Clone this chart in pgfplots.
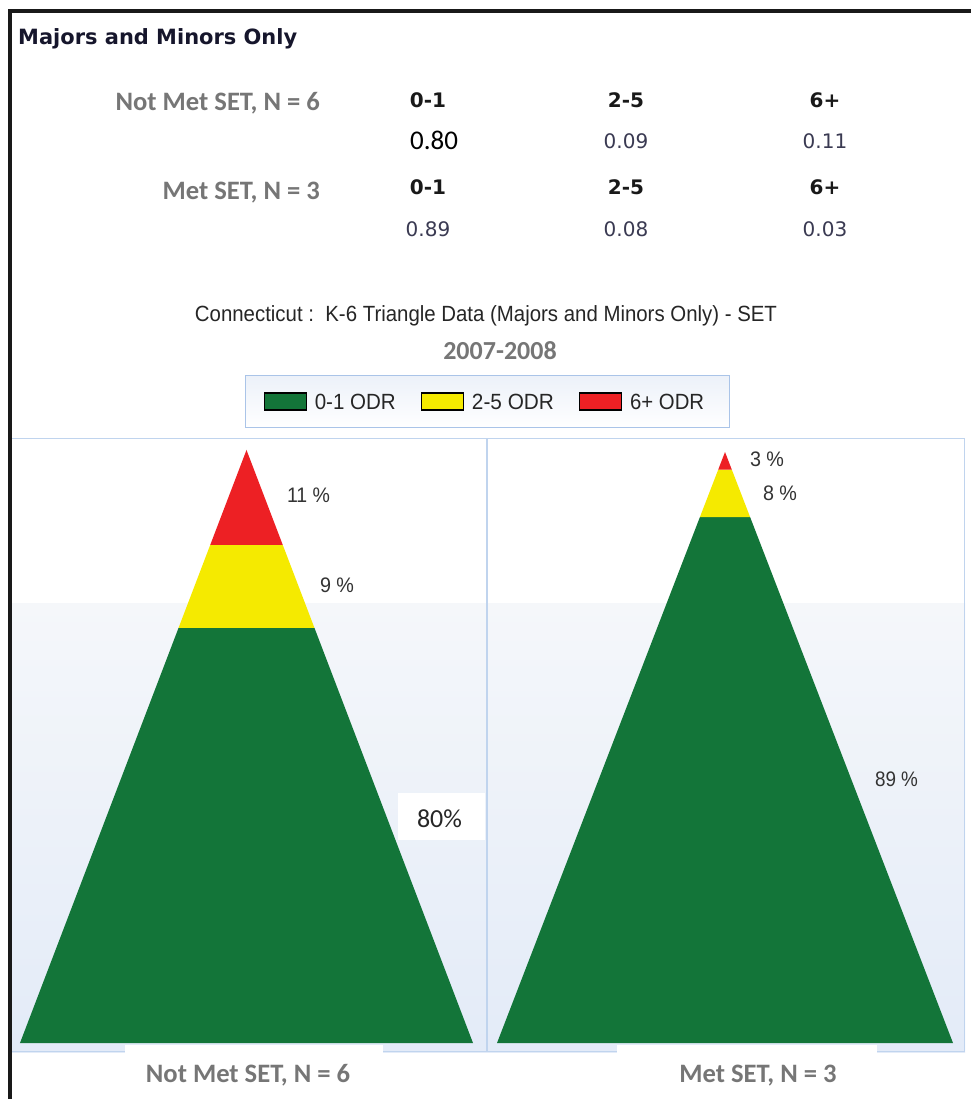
\documentclass[border=0pt]{standalone}
\usepackage{fontspec}
\usepackage{pgfplots}
\pgfplotsset{compat=1.18}
\setmainfont{Liberation Sans}
\newfontfamily\verd{DejaVu Sans}
\newfontfamily\carl{Carlito}
\newfontfamily\ari{Liberation Sans}
\definecolor{odrgreen}{RGB}{19,117,57}
\definecolor{odryellow}{RGB}{245,234,0}
\definecolor{odrred}{RGB}{237,32,36}
\definecolor{gridblue}{RGB}{192,212,238}
\definecolor{legblue}{RGB}{170,196,232}
\definecolor{lbl}{RGB}{118,118,118}
\definecolor{hdr}{RGB}{22,22,44}
\definecolor{val}{RGB}{58,58,82}
\definecolor{bgtop}{RGB}{245,247,250}
\definecolor{bgbot}{RGB}{227,235,248}
\definecolor{legtop}{RGB}{236,241,249}
\newcommand\fw[2]{\resizebox{#1pt}{\height}{#2}}
\begin{document}
\begin{tikzpicture}[x=1pt,y=-1pt]
\path[use as bounding box, fill=white] (0,0) rectangle (971,1099);
% panel backgrounds
\fill[white] (12,438) rectangle (965,603);
\shade[top color=bgtop,bottom color=bgbot] (12,603) rectangle (965,1052);
\draw[gridblue, line width=1.5pt] (12,438.5) -- (965,438.5);
\draw[gridblue, line width=1.5pt] (487,438) -- (487,1052);
\draw[gridblue, line width=1.5pt] (964.5,438) -- (964.5,1052);
\draw[gridblue, line width=1.5pt] (12,1051.5) -- (965,1051.5);
\coordinate (LA) at (12,1052);
\coordinate (RA) at (487,1052);

\begin{axis}[at={(LA)}, anchor=south west, scale only axis,
  width=475pt, height=614pt,
  xmin=-1.0353, xmax=1.0618, ymin=-0.01518, ymax=1.0202,
  hide axis, clip=false,
  legend columns=3,
  legend image code/.code={\draw[#1,draw=black,line width=1.2pt] (0pt,-8.5pt) rectangle (42pt,8.5pt);},
  legend style={at={(0.4905,1.0595)}, anchor=west, draw=legblue, line width=1.2pt,
    top color=legtop, bottom color=white,
    inner xsep=18pt, inner ysep=17pt,
    font=\ari\fontsize{22}{26}\selectfont, text=black!85,
    nodes={inner sep=0pt, text depth=0pt},
    /tikz/every odd column/.style={column sep=8pt},
    /tikz/every even column/.style={column sep=25pt}},
  legend cell align=left]
\addplot[fill=odrgreen, draw=none] coordinates {(-1,0) (1,0) (0.30,0.70) (-0.30,0.70)} -- cycle;
\addlegendentry{\fw{81}{0-1 ODR}}
\addplot[fill=odryellow, draw=none] coordinates {(-0.30,0.70) (0.30,0.70) (0.16,0.84) (-0.16,0.84)} -- cycle;
\addlegendentry{\fw{82}{2-5 ODR}}
\addplot[fill=odrred, draw=none] coordinates {(-0.16,0.84) (0.16,0.84) (0,1)} -- cycle;
\addlegendentry{\fw{74}{6+ ODR}\rule{7pt}{0pt}}
\end{axis}

\begin{axis}[at={(RA)}, anchor=south west, scale only axis,
  width=478pt, height=614pt,
  xmin=-1.0439, xmax=1.0526, ymin=-0.01523, ymax=1.0237,
  hide axis, clip=false]
\addplot[fill=odrgreen, draw=none] coordinates {(-1,0) (1,0) (0.11,0.89) (-0.11,0.89)} -- cycle;
\addplot[fill=odryellow, draw=none] coordinates {(-0.11,0.89) (0.11,0.89) (0.03,0.97) (-0.03,0.97)} -- cycle;
\addplot[fill=odrred, draw=none] coordinates {(-0.03,0.97) (0.03,0.97) (0,1)} -- cycle;
\end{axis}

% label backgrounds at the bottom
\fill[white] (125,1045) rectangle (383,1099);
\fill[white] (617,1045) rectangle (877,1099);

% percent labels
\begin{scope}[every node/.style={inner sep=0pt, text=black!80}]
\node at (308.5,495) {\ari\fontsize{21}{24}\selectfont\fw{43}{11 \%}};
\node at (337,585) {\ari\fontsize{21}{24}\selectfont\fw{34}{9 \%}};
\node at (767,459) {\ari\fontsize{21}{24}\selectfont\fw{34}{3 \%}};
\node at (780,493) {\ari\fontsize{21}{24}\selectfont\fw{34}{8 \%}};
\node at (896.5,779) {\ari\fontsize{21}{24}\selectfont\fw{43}{89 \%}};
\end{scope}
\fill[white] (398,793) rectangle (485,840);
\node[inner sep=0pt, text=black!85] at (439.5,819) {\carl\fontsize{26}{30}\selectfont 80\%};

% header and table
\node[anchor=base west, inner sep=0pt, text=hdr] at (18,45) {\verd\bfseries\fontsize{21}{25}\selectfont\fw{279}{Majors and Minors Only}};
\node[anchor=base east, inner sep=0pt, text=lbl] at (320,111) {\carl\bfseries\fontsize{26.6}{30}\selectfont Not Met SET, N = 6};
\node[anchor=base east, inner sep=0pt, text=lbl] at (320,200) {\carl\bfseries\fontsize{26.6}{30}\selectfont Met SET, N = 3};
\begin{scope}[every node/.style={anchor=base, inner sep=0pt}]
\node[text=black!90] at (428,107.3) {\verd\bfseries\fontsize{20}{24}\selectfont 0-1};
\node[text=black!90] at (626,107.3) {\verd\bfseries\fontsize{20}{24}\selectfont 2-5};
\node[text=black!90] at (825,107.3) {\verd\bfseries\fontsize{20}{24}\selectfont 6+};
\node[text=black] at (434,149.5) {\carl\fontsize{27}{30}\selectfont 0.80};
\node[text=val] at (626,148.3) {\verd\fontsize{20}{24}\selectfont 0.09};
\node[text=val] at (825,148.3) {\verd\fontsize{20}{24}\selectfont 0.11};
\node[text=black!90] at (428,194.3) {\verd\bfseries\fontsize{20}{24}\selectfont 0-1};
\node[text=black!90] at (626,194.3) {\verd\bfseries\fontsize{20}{24}\selectfont 2-5};
\node[text=black!90] at (825,194.3) {\verd\bfseries\fontsize{20}{24}\selectfont 6+};
\node[text=val] at (428,236.3) {\verd\fontsize{20}{24}\selectfont 0.89};
\node[text=val] at (626,236.3) {\verd\fontsize{20}{24}\selectfont 0.08};
\node[text=val] at (825,236.3) {\verd\fontsize{20}{24}\selectfont 0.03};
% titles
\node[text=black!85] at (486,321) {\ari\fontsize{22}{26}\selectfont\fw{582}{Connecticut :\ \ K-6 Triangle Data (Majors and Minors Only) - SET}};
\node[text=lbl] at (500,359) {\carl\bfseries\fontsize{26}{30}\selectfont 2007-2008};
% bottom labels
\node[text=lbl] at (248,1082) {\carl\bfseries\fontsize{26.6}{30}\selectfont Not Met SET, N = 6};
\node[text=lbl] at (758,1082) {\carl\bfseries\fontsize{26.6}{30}\selectfont Met SET, N = 3};
\end{scope}

% black frame
\draw[black!90, line width=4pt] (10,1099) -- (10,11.5) -- (971,11.5);
\end{tikzpicture}
\end{document}
